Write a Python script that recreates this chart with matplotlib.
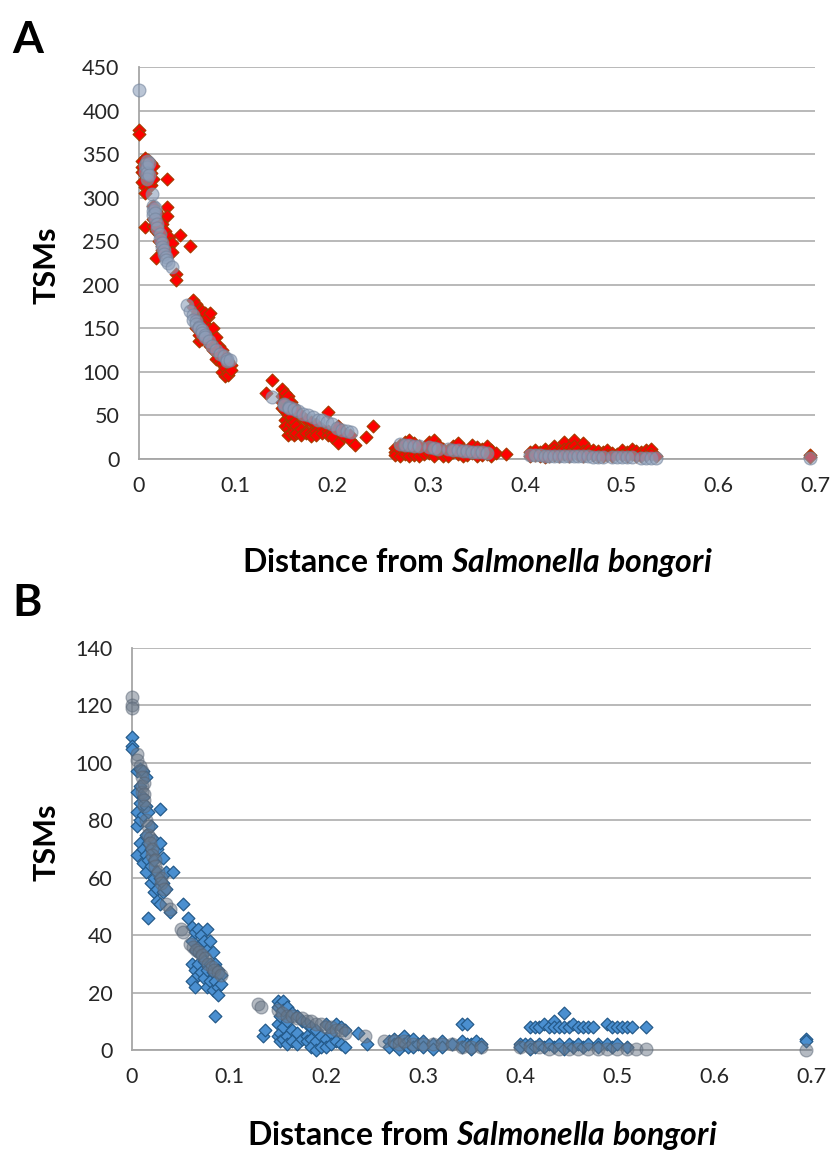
import matplotlib
matplotlib.use("Agg")
import matplotlib.pyplot as plt

# ---------------- DATA ----------------
# Panel A: red diamonds (x, [y values at that x])
a_red = [
    (0.000, [378, 373]),
    (0.003, [342, 335, 330, 318]),
    (0.006, [345, 338, 326, 312, 305, 266]),
    (0.009, [343, 333, 320]),
    (0.012, [340, 328, 315]),
    (0.015, [336, 322, 290, 275, 268]),
    (0.018, [285, 272, 262, 231]),
    (0.021, [280, 265, 258, 250]),
    (0.024, [270, 255, 245, 240]),
    (0.027, [262, 250, 243]),
    (0.029, [321, 289, 279]),
    (0.031, [255, 248, 240]),
    (0.034, [248, 238]),
    (0.038, [212, 206]),
    (0.042, [257]),
    (0.053, [245]),
    (0.056, [183, 175]),
    (0.059, [178, 165, 150]),
    (0.062, [172, 158, 142, 135]),
    (0.065, [170, 160, 148, 138]),
    (0.068, [168, 155, 140]),
    (0.071, [163, 150, 135]),
    (0.074, [168, 145, 130]),
    (0.077, [150, 138, 125]),
    (0.080, [140, 128, 115]),
    (0.083, [130, 120, 112]),
    (0.086, [125, 110, 100]),
    (0.089, [118, 105, 95]),
    (0.092, [112, 100, 96]),
    (0.095, [108, 102]),
    (0.132, [76]),
    (0.138, [91]),
    (0.148, [80, 72, 65, 58]),
    (0.151, [76, 68, 55, 45, 38]),
    (0.154, [72, 62, 50, 35, 28]),
    (0.157, [66, 48, 40, 30]),
    (0.160, [60, 42, 32, 28]),
    (0.163, [55, 38, 30]),
    (0.168, [50, 35, 28]),
    (0.173, [45, 32, 30]),
    (0.178, [42, 30, 26]),
    (0.183, [40, 32, 28]),
    (0.190, [35, 30]),
    (0.196, [54, 32, 27]),
    (0.200, [30, 25]),
    (0.206, [38, 18]),
    (0.212, [30, 26]),
    (0.218, [28, 22]),
    (0.224, [16]),
    (0.235, [25]),
    (0.242, [38]),
    (0.265, [13, 8, 5]),
    (0.270, [16, 10, 4]),
    (0.275, [20, 12, 6]),
    (0.280, [22, 14, 8, 3]),
    (0.285, [18, 10, 5]),
    (0.290, [15, 8, 3]),
    (0.295, [12, 6]),
    (0.300, [20, 14, 7]),
    (0.305, [22, 10, 4]),
    (0.310, [16, 8]),
    (0.315, [12, 5, 3]),
    (0.320, [10, 4]),
    (0.325, [15, 8]),
    (0.330, [18, 6]),
    (0.335, [12, 4]),
    (0.340, [9, 5]),
    (0.345, [16, 7]),
    (0.350, [14, 8, 3]),
    (0.355, [12, 5]),
    (0.360, [15, 6]),
    (0.365, [10, 4]),
    (0.370, [7]),
    (0.380, [6]),
    (0.405, [8, 3]),
    (0.410, [10, 5]),
    (0.415, [8, 4]),
    (0.420, [12, 6, 2]),
    (0.425, [8, 3]),
    (0.430, [15, 10, 5]),
    (0.435, [9, 4]),
    (0.440, [20, 12, 6]),
    (0.445, [14, 7, 3]),
    (0.450, [22, 15, 8]),
    (0.455, [12, 5]),
    (0.460, [18, 9, 4]),
    (0.465, [11, 6]),
    (0.470, [10, 5]),
    (0.475, [9, 4]),
    (0.480, [8, 3]),
    (0.485, [10, 5]),
    (0.490, [7, 3]),
    (0.495, [6]),
    (0.500, [10, 5]),
    (0.505, [8, 4]),
    (0.510, [12, 6]),
    (0.515, [9, 4]),
    (0.520, [8, 3]),
    (0.525, [10, 5]),
    (0.530, [12, 6]),
    (0.535, [4]),
    (0.695, [5, 2]),
]

# Panel A: grey circles
a_grey = [
    (0.000, [424]),
    (0.006, [338, 330]),
    (0.008, [342, 335, 328, 322]),
    (0.010, [340, 326]),
    (0.013, [304]),
    (0.015, [290, 285, 280]),
    (0.017, [288, 282, 276]),
    (0.019, [270, 265]),
    (0.022, [258, 252]),
    (0.024, [248, 243]),
    (0.026, [240, 235]),
    (0.028, [232, 228]),
    (0.030, [225]),
    (0.034, [220]),
    (0.050, [177]),
    (0.053, [170]),
    (0.056, [165, 160]),
    (0.059, [158, 155]),
    (0.062, [152, 150]),
    (0.065, [148, 145]),
    (0.068, [142, 140]),
    (0.072, [136]),
    (0.076, [130]),
    (0.080, [125]),
    (0.084, [120]),
    (0.088, [118]),
    (0.091, [115, 112]),
    (0.094, [114]),
    (0.138, [71]),
    (0.150, [63, 62]),
    (0.155, [60, 58]),
    (0.160, [57]),
    (0.165, [55]),
    (0.170, [52]),
    (0.175, [50]),
    (0.180, [48]),
    (0.185, [45]),
    (0.190, [45]),
    (0.195, [42]),
    (0.200, [40]),
    (0.205, [36]),
    (0.210, [33]),
    (0.215, [32]),
    (0.220, [31]),
    (0.270, [17]),
    (0.275, [16]),
    (0.280, [16]),
    (0.285, [15]),
    (0.290, [15]),
    (0.300, [14]),
    (0.305, [13]),
    (0.310, [12]),
    (0.320, [11]),
    (0.325, [10]),
    (0.330, [10]),
    (0.335, [9]),
    (0.340, [9]),
    (0.345, [8]),
    (0.350, [8]),
    (0.355, [8]),
    (0.360, [7]),
    (0.405, [5]),
    (0.410, [5]),
    (0.415, [5]),
    (0.420, [4]),
    (0.425, [4]),
    (0.430, [4]),
    (0.435, [3]),
    (0.440, [3]),
    (0.445, [3]),
    (0.450, [3]),
    (0.455, [3]),
    (0.460, [3]),
    (0.465, [3]),
    (0.470, [2]),
    (0.475, [2]),
    (0.480, [2]),
    (0.490, [2]),
    (0.495, [2]),
    (0.500, [2]),
    (0.505, [2]),
    (0.510, [2]),
    (0.520, [1]),
    (0.525, [1]),
    (0.530, [1]),
    (0.535, [1]),
    (0.695, [1]),
]

# Panel B: blue diamonds
b_blue = [
    (0.000, [109, 106, 105]),
    (0.005, [97, 90, 83, 78, 68]),
    (0.008, [98, 92, 86, 80, 72]),
    (0.011, [97, 88, 82, 70, 65]),
    (0.014, [95, 85, 75, 68, 62]),
    (0.017, [83, 72, 66, 46]),
    (0.020, [78, 70, 64, 58]),
    (0.023, [73, 66, 60, 55]),
    (0.026, [70, 62, 56, 52]),
    (0.029, [84, 72, 60, 51]),
    (0.032, [67, 58, 55]),
    (0.035, [62, 56]),
    (0.039, [48]),
    (0.042, [62]),
    (0.053, [51]),
    (0.058, [46]),
    (0.062, [43, 38, 30, 24]),
    (0.065, [41, 35, 28, 22]),
    (0.068, [42, 36, 30, 26]),
    (0.071, [40, 33, 27]),
    (0.074, [38, 31, 25]),
    (0.077, [42, 35, 28, 22]),
    (0.080, [38, 30, 24]),
    (0.083, [34, 27, 21]),
    (0.086, [30, 24, 12]),
    (0.089, [28, 22, 19]),
    (0.092, [26, 23]),
    (0.135, [5]),
    (0.137, [7]),
    (0.150, [17, 15, 9, 5]),
    (0.153, [16, 12, 6, 3]),
    (0.156, [17, 14, 8, 4]),
    (0.160, [15, 10, 5, 2]),
    (0.165, [13, 7, 3]),
    (0.170, [12, 6, 2]),
    (0.175, [10, 4]),
    (0.180, [9, 5, 3]),
    (0.185, [8, 4, 1]),
    (0.190, [7, 3, 0]),
    (0.195, [5, 1]),
    (0.200, [9, 4, 1]),
    (0.205, [6, 2]),
    (0.210, [9, 3]),
    (0.215, [8, 2]),
    (0.220, [7, 1]),
    (0.233, [6]),
    (0.242, [2]),
    (0.265, [3, 1]),
    (0.270, [4, 2]),
    (0.275, [3, 0.5]),
    (0.280, [5, 2]),
    (0.285, [3, 1]),
    (0.290, [4, 1]),
    (0.295, [2]),
    (0.300, [3, 1]),
    (0.310, [2, 0.5]),
    (0.320, [3, 1]),
    (0.330, [2]),
    (0.340, [9, 3, 1]),
    (0.345, [9, 2]),
    (0.350, [2, 0.5]),
    (0.355, [3]),
    (0.360, [2, 1]),
    (0.400, [2, 1]),
    (0.405, [2]),
    (0.410, [8, 2, 0.5]),
    (0.415, [8, 1]),
    (0.420, [8, 2]),
    (0.425, [9, 1]),
    (0.430, [8, 2]),
    (0.435, [10, 8, 1]),
    (0.440, [8, 2]),
    (0.445, [13, 8, 0.5]),
    (0.450, [8, 2]),
    (0.455, [9, 1]),
    (0.460, [8, 2]),
    (0.465, [8, 1]),
    (0.470, [8, 2]),
    (0.475, [8]),
    (0.480, [2, 1]),
    (0.490, [9, 2]),
    (0.495, [8, 1]),
    (0.500, [8, 2]),
    (0.505, [8]),
    (0.510, [8, 1]),
    (0.515, [8]),
    (0.530, [8]),
    (0.695, [4, 3]),
]

# Panel B: grey circles
b_grey = [
    (0.000, [123, 120, 119]),
    (0.005, [103, 101]),
    (0.008, [99]),
    (0.010, [97, 95, 92, 90]),
    (0.012, [93, 89, 87, 85]),
    (0.014, [80]),
    (0.017, [78, 75]),
    (0.019, [74, 72]),
    (0.021, [70, 68]),
    (0.024, [66, 64]),
    (0.027, [62]),
    (0.030, [60, 58]),
    (0.033, [56]),
    (0.035, [51]),
    (0.039, [49]),
    (0.050, [42]),
    (0.053, [41]),
    (0.060, [37]),
    (0.063, [36]),
    (0.066, [35]),
    (0.069, [34]),
    (0.072, [33]),
    (0.075, [32]),
    (0.078, [30]),
    (0.082, [29]),
    (0.085, [28]),
    (0.089, [27]),
    (0.092, [26]),
    (0.130, [16]),
    (0.133, [15]),
    (0.150, [14]),
    (0.155, [13]),
    (0.160, [12]),
    (0.165, [12]),
    (0.170, [11]),
    (0.175, [11]),
    (0.180, [10]),
    (0.185, [10]),
    (0.190, [9]),
    (0.195, [9]),
    (0.200, [8]),
    (0.205, [8]),
    (0.210, [7]),
    (0.215, [7]),
    (0.220, [6]),
    (0.240, [5]),
    (0.260, [3]),
    (0.270, [3]),
    (0.275, [2]),
    (0.280, [3]),
    (0.290, [2]),
    (0.300, [2]),
    (0.310, [2]),
    (0.320, [2]),
    (0.330, [2]),
    (0.340, [1]),
    (0.350, [1]),
    (0.360, [1]),
    (0.400, [1]),
    (0.410, [1]),
    (0.420, [1]),
    (0.430, [0.5]),
    (0.440, [0.5]),
    (0.450, [0.5]),
    (0.460, [0.5]),
    (0.470, [0.5]),
    (0.480, [0.5]),
    (0.490, [0.5]),
    (0.500, [0.5]),
    (0.510, [0.5]),
    (0.520, [0.5]),
    (0.530, [0.3]),
    (0.695, [0]),
]

x_ticks = [0, 0.1, 0.2, 0.3, 0.4, 0.5, 0.6, 0.7]
x_tick_labels = ["0", "0.1", "0.2", "0.3", "0.4", "0.5", "0.6", "0.7"]
a_y_ticks = [0, 50, 100, 150, 200, 250, 300, 350, 400, 450]
b_y_ticks = [0, 20, 40, 60, 80, 100, 120, 140]
panel_labels = ["A", "B"]
y_label = "TSMs"
x_label = r"Distance from $\mathit{Salmonella\ bongori}$"


def expand(groups):
    xs, ys = [], []
    for x, vals in groups:
        for v in vals:
            xs.append(x)
            ys.append(v)
    return xs, ys


# ---------------- STYLE ----------------
plt.rcParams["font.family"] = ["Lato", "DejaVu Sans"]
plt.rcParams["mathtext.fontset"] = "custom"
plt.rcParams["mathtext.it"] = "Lato:italic:bold"
plt.rcParams["mathtext.rm"] = "Lato:bold"
plt.rcParams["mathtext.bf"] = "Lato:bold"

W, H = 835, 1151
fig = plt.figure(figsize=(W / 100, H / 100), dpi=100)
fig.patch.set_facecolor("white")


def px_axes(left, right, top, bottom):
    return fig.add_axes([left / W, 1 - bottom / H, (right - left) / W, (bottom - top) / H])


axA = px_axes(139, 815, 67, 459)
axB = px_axes(132, 811, 648, 1050)

grid_col = "#a6a6a6"


def style(ax, yticks):
    ax.set_xlim(0, 0.7)
    ax.set_ylim(0, yticks[-1])
    ax.set_xticks(x_ticks)
    ax.set_xticklabels(x_tick_labels)
    ax.set_yticks(yticks)
    ax.tick_params(length=0, labelsize=15.5, colors="#262626")
    ax.tick_params(axis="y", pad=14)
    ax.tick_params(axis="x", pad=12)
    for s in ["top", "right"]:
        ax.spines[s].set_visible(False)
    for s in ["left", "bottom"]:
        ax.spines[s].set_color(grid_col)
        ax.spines[s].set_linewidth(1.3)
    ax.yaxis.grid(True, color=grid_col, linewidth=1.1)
    ax.set_axisbelow(True)


style(axA, a_y_ticks)
style(axB, b_y_ticks)

# Panel A
xr, yr = expand(a_red)
axA.scatter(xr, yr, marker="D", s=42, facecolor="#ff0000", edgecolor="#a83a00",
            linewidth=0.9, zorder=3, clip_on=False)
xg, yg = expand(a_grey)
axA.scatter(xg, yg, marker="o", s=85, facecolor="#8d9fba", edgecolor="#74849c",
            linewidth=0.9, alpha=0.6, zorder=4, clip_on=False)

# Panel B
xb, yb = expand(b_blue)
axB.scatter(xb, yb, marker="D", s=42, facecolor="#4a8fd0", edgecolor="#245a8a",
            linewidth=0.9, zorder=3, clip_on=False)
xg2, yg2 = expand(b_grey)
axB.scatter(xg2, yg2, marker="o", s=85, facecolor="#6a7787", edgecolor="#566272",
            linewidth=0.9, alpha=0.5, zorder=4, clip_on=False)

# Labels
fig.text(12 / W, 1 - 40 / H, panel_labels[0], fontsize=32, fontweight="bold",
         va="center", ha="left")
fig.text(12 / W, 1 - 603 / H, panel_labels[1], fontsize=32, fontweight="bold",
         va="center", ha="left")

fig.text(47 / W, 1 - 265 / H, y_label, fontsize=22, fontweight="bold", rotation=90,
         va="center", ha="center")
fig.text(47 / W, 1 - 842 / H, y_label, fontsize=22, fontweight="bold", rotation=90,
         va="center", ha="center")

fig.text(477 / W, 1 - 563 / H, x_label, fontsize=23, fontweight="bold",
         va="center", ha="center")
fig.text(482 / W, 1 - 1135 / H, x_label, fontsize=23, fontweight="bold",
         va="center", ha="center")

fig.savefig("out.png", dpi=100, facecolor="white")
